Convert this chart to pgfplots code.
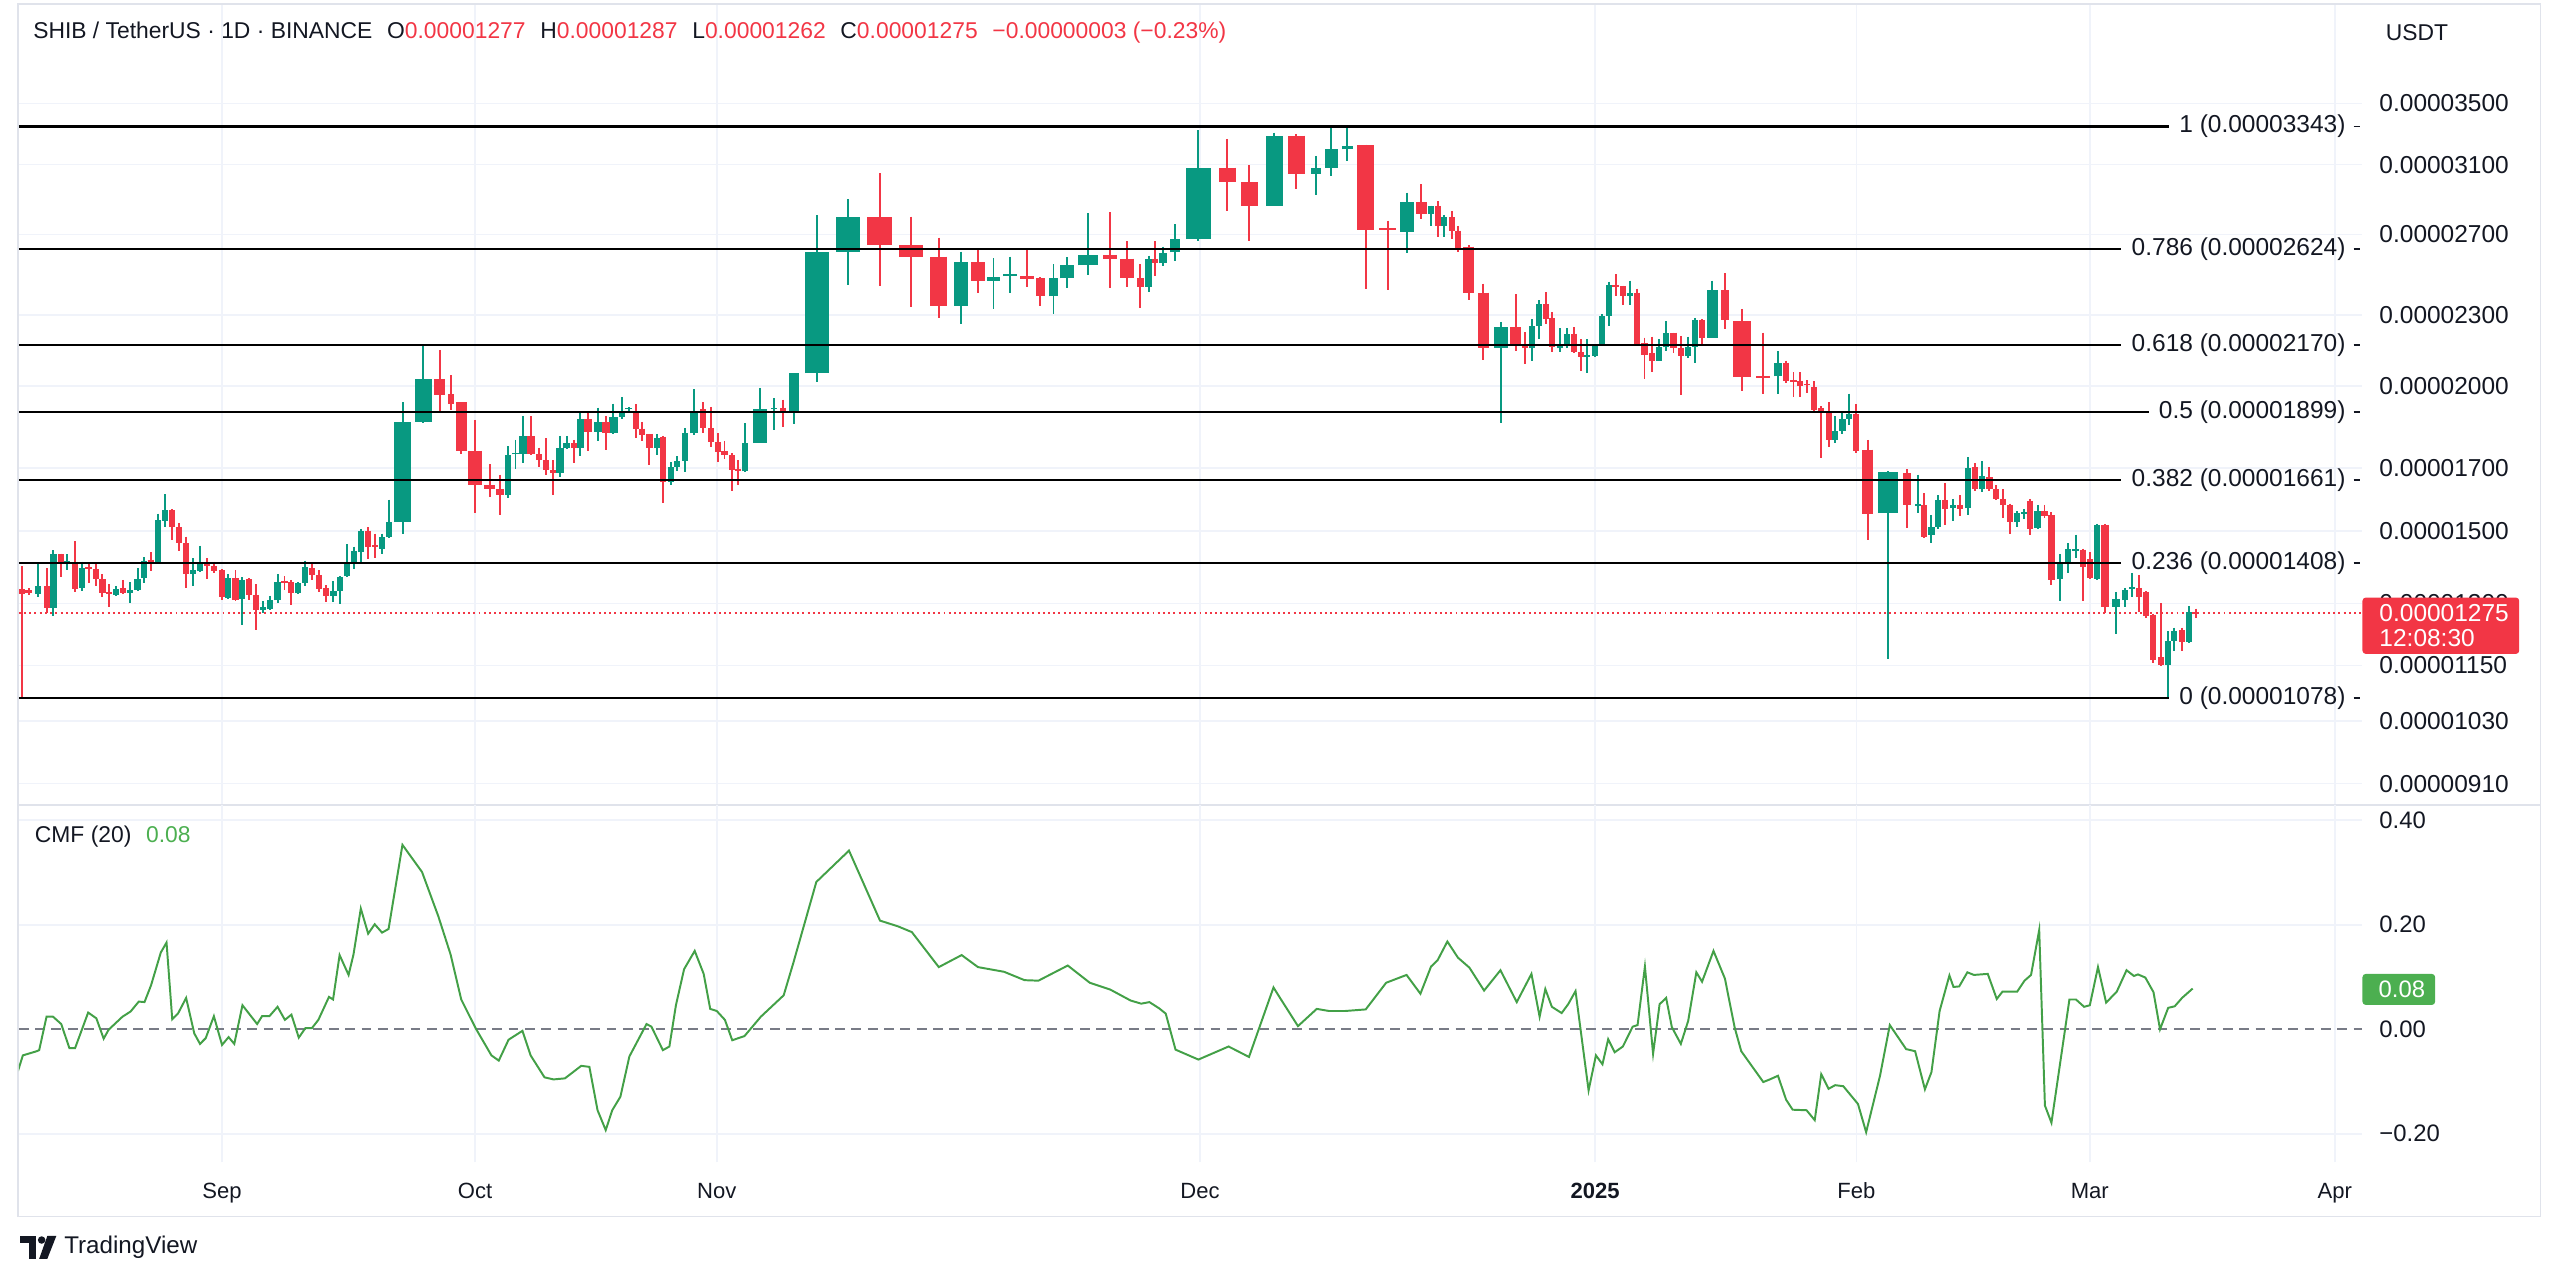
\documentclass[border=0pt]{standalone}
\usepackage{pgfplots}
\pgfplotsset{compat=1.18}
\usepackage{fontspec}
\setmainfont{Liberation Sans}
\definecolor{tvgreen}{HTML}{089981}
\definecolor{tvred}{HTML}{F23645}
\definecolor{tvgrid}{HTML}{F0F3FA}
\definecolor{tvframe}{HTML}{E0E3EB}
\definecolor{tvtext}{HTML}{131722}
\definecolor{tvcmf}{HTML}{43A047}
\definecolor{tvcmfbox}{HTML}{4CAF50}
\definecolor{tvzero}{HTML}{787B86}
\newcommand{\fs}[1]{\fontsize{#1}{#1}\selectfont}
\pgfplotsset{
  wick/.style={line width=0.6pt, mark=none},
  body/.style={line width=#1, mark=none, line cap=butt},
}
\begin{document}
\begin{tikzpicture}[x=0.5pt,y=-0.5pt]
\path (0,0) rectangle (1568,784);
% frame
\draw[tvframe, line width=0.5pt] (11,2.5) rectangle (1556,745);
\begin{axis}[
  at={(5.75pt,-246.5pt)}, anchor=south west,
  scale only axis, width=717.75pt, height=245pt,
  xmin=11.5, xmax=1447, ymode=log, ymin=872.4, ymax=4253,
  axis line style={draw=none}, major tick length=0pt,
  xtick={136,291,439,735,977,1137,1280,1430}, xticklabels={},
  ytick={910,1030,1150,1300,1500,1700,2000,2300,2700,3100,3500},
  yticklabels={0.00000910,0.00001030,0.00001150,0.00001300,0.00001500,0.00001700,0.00002000,0.00002300,0.00002700,0.00003100,0.00003500},
  yticklabel pos=right,
  yticklabel style={anchor=west, inner sep=0pt, xshift=5pt, font=\fs{7.5}, text=tvtext},
  grid=major, major grid style={draw=tvgrid, line width=0.5pt},
  unbounded coords=jump,
]
\addplot[tvred, line width=0.55pt, dash pattern=on 0.6pt off 1pt] coordinates {(11.5,1275)(1447,1275)};
% green wicks
\addplot[wick, tvgreen] coordinates {
(23.25,1408)(23.25,1316)(0,nan)(32.75,1444)(32.75,1269)(0,nan)(41.25,1433)(41.25,1389)(0,nan)(50,1412)(50,1333)(0,nan)
(71.25,1346)(71.25,1320)(0,nan)(79.5,1356)(79.5,1301)(0,nan)(84.25,1394)(84.25,1333)(0,nan)(88,1424)(88,1354)(0,nan)
(97,1553)(97,1408)(0,nan)(101.25,1614)(101.25,1513)(0,nan)(118,1421)(118,1346)(0,nan)(122.5,1458)(122.5,1383)(0,nan)
(139.5,1378)(139.5,1311)(0,nan)(148.25,1369)(148.25,1246)(0,nan)(161.25,1305)(161.25,1276)(0,nan)(165.5,1320)(165.5,1283)(0,nan)
(170,1378)(170,1301)(0,nan)(182.5,1356)(182.5,1325)(0,nan)(186.75,1415)(186.75,1346)(0,nan)(204.25,1359)(204.25,1303)(0,nan)
(208.25,1372)(208.25,1298)(0,nan)(212.75,1461)(212.75,1370)(0,nan)(216.75,1455)(216.75,1392)(0,nan)(221.25,1507)(221.25,1412)(0,nan)
(234,1493)(234,1433)(0,nan)(238.25,1597)(238.25,1479)(0,nan)(246.75,1936)(246.75,1493)(0,nan)(259.25,2171)(259.25,1858)(0,nan)
(311.25,1774)(311.25,1601)(0,nan)(315.75,1797)(315.75,1696)(0,nan)(320.5,1884)(320.5,1716)(0,nan)(343,1812)(343,1670)(0,nan)
(347,1812)(347,1766)(0,nan)(355.5,1899)(355.5,1740)(0,nan)(366.25,1916)(366.25,1794)(0,nan)(375.75,1931)(375.75,1819)(0,nan)
(380.75,1957)(380.75,1873)(0,nan)(385,1919)(385,1899)(0,nan)(402.25,1819)(402.25,1745)(0,nan)(410.75,1719)(410.75,1642)(0,nan)
(414.75,1740)(414.75,1689)(0,nan)(419.5,1841)(419.5,1686)(0,nan)(425,1987)(425,1815)(0,nan)(456.5,1858)(456.5,1686)(0,nan)
(465.25,1992)(465.25,1786)(0,nan)(474.25,1952)(474.25,1833)(0,nan)(486.25,2051)(486.25,1856)(0,nan)(500.25,2804)(500.25,2015)(0,nan)
(519.5,2893)(519.5,2443)(0,nan)(588.5,2609)(588.5,2261)(0,nan)(608.5,2575)(608.5,2329)(0,nan)(618.5,2583)(618.5,2406)(0,nan)
(645.25,2545)(645.25,2307)(0,nan)(653.75,2579)(653.75,2428)(0,nan)(666.25,2815)(666.25,2493)(0,nan)(703.5,2589)(703.5,2408)(0,nan)
(712.5,2635)(712.5,2535)(0,nan)(719.75,2755)(719.75,2559)(0,nan)(734,3318)(734,2664)(0,nan)(780.5,3303)(780.5,2858)(0,nan)
(806,3154)(806,2916)(0,nan)(815.5,3330)(815.5,3033)(0,nan)(825.25,3343)(825.25,3124)(0,nan)(862,2932)(862,2603)(0,nan)
(876.25,2858)(876.25,2746)(0,nan)(884.5,2806)(884.5,2687)(0,nan)(919.25,2270)(919.25,1858)(0,nan)(938.5,2283)(938.5,2099)(0,nan)
(942.5,2369)(942.5,2193)(0,nan)(955.25,2242)(955.25,2137)(0,nan)(959.75,2242)(959.75,2157)(0,nan)(972.25,2193)(972.25,2051)(0,nan)
(976.75,2174)(976.75,2116)(0,nan)(981,2305)(981,2169)(0,nan)(985.5,2459)(985.5,2252)(0,nan)(998.25,2463)(998.25,2348)(0,nan)
(1016,2193)(1016,2099)(0,nan)(1020.5,2274)(1020.5,2142)(0,nan)(1034,2205)(1034,2115)(0,nan)(1038,2288)(1038,2094)(0,nan)
(1048.75,2463)(1048.75,2199)(0,nan)(1089,2142)(1089,1967)(0,nan)(1124,1884)(1124,1786)(0,nan)(1128.5,1899)(1128.5,1819)(0,nan)
(1132.5,1970)(1132.5,1852)(0,nan)(1156.5,1689)(1156.5,1164)(0,nan)(1174.75,1678)(1174.75,1555)(0,nan)(1183,1549)(1183,1465)(0,nan)
(1187.25,1611)(1187.25,1507)(0,nan)(1196,1599)(1196,1531)(0,nan)(1205.25,1736)(1205.25,1549)(0,nan)(1214,1723)(1214,1621)(0,nan)
(1235.25,1561)(1235.25,1513)(0,nan)(1239.5,1568)(1239.5,1536)(0,nan)(1248,1580)(1248,1507)(0,nan)(1261.5,1433)(1261.5,1305)(0,nan)
(1266.5,1465)(1266.5,1380)(0,nan)(1271.25,1490)(1271.25,1421)(0,nan)(1284.25,1522)(1284.25,1362)(0,nan)(1296.25,1330)(1296.25,1223)(0,nan)
(1301.75,1341)(1301.75,1291)(0,nan)(1305.75,1381)(1305.75,1317)(0,nan)(1327.75,1230)(1327.75,1080)(0,nan)(1331.75,1239)(1331.75,1182)(0,nan)
(1340.75,1293)(1340.75,1201)(0,nan)};
% red wicks
\addplot[wick, tvred] coordinates {
(13.25,1399)(13.25,1078)(0,nan)(17.5,1340)(17.5,1322)(0,nan)(28.75,1394)(28.75,1275)(0,nan)(37.25,1435)(37.25,1369)(0,nan)
(45.75,1470)(45.75,1330)(0,nan)(54.25,1408)(54.25,1354)(0,nan)(58.75,1408)(58.75,1346)(0,nan)(62.75,1378)(62.75,1316)(0,nan)
(67,1351)(67,1291)(0,nan)(75.5,1362)(75.5,1325)(0,nan)(92.5,1438)(92.5,1386)(0,nan)(105.5,1568)(105.5,1475)(0,nan)
(109.5,1525)(109.5,1441)(0,nan)(114,1484)(114,1341)(0,nan)(126.75,1421)(126.75,1365)(0,nan)(131,1412)(131,1380)(0,nan)
(135.75,1391)(135.75,1308)(0,nan)(144.25,1389)(144.25,1305)(0,nan)(152.75,1367)(152.75,1308)(0,nan)(156.75,1351)(156.75,1234)(0,nan)
(174.25,1372)(174.25,1335)(0,nan)(178.25,1362)(178.25,1295)(0,nan)(191.25,1410)(191.25,1362)(0,nan)(195.5,1389)(195.5,1330)(0,nan)
(199.5,1348)(199.5,1303)(0,nan)(225.25,1511)(225.25,1419)(0,nan)(229.5,1493)(229.5,1421)(0,nan)(269.25,2148)(269.25,1899)(0,nan)
(276,2042)(276,1905)(0,nan)(282.5,1936)(282.5,1747)(0,nan)(290.75,1870)(290.75,1555)(0,nan)(300,1713)(300,1605)(0,nan)
(306.25,1678)(306.25,1549)(0,nan)(325,1884)(325,1743)(0,nan)(330,1770)(330,1705)(0,nan)(334.5,1804)(334.5,1676)(0,nan)
(338.75,1727)(338.75,1611)(0,nan)(351.5,1797)(351.5,1716)(0,nan)(360.25,1899)(360.25,1759)(0,nan)(371.25,1884)(371.25,1763)(0,nan)
(389.5,1928)(389.5,1804)(0,nan)(393.25,1863)(393.25,1794)(0,nan)(397.75,1819)(397.75,1709)(0,nan)(406.25,1812)(406.25,1586)(0,nan)
(430.5,1936)(430.5,1821)(0,nan)(435.25,1919)(435.25,1772)(0,nan)(439.75,1821)(439.75,1720)(0,nan)(443.75,1794)(443.75,1730)(0,nan)
(448.25,1750)(448.25,1624)(0,nan)(452,1727)(452,1642)(0,nan)(479.75,1947)(479.75,1844)(0,nan)(538.75,3047)(538.75,2436)(0,nan)
(558,2796)(558,2338)(0,nan)(575,2682)(575,2290)(0,nan)(598.75,2623)(598.75,2403)(0,nan)(629,2615)(629,2434)(0,nan)
(637.25,2479)(637.25,2344)(0,nan)(679.75,2821)(679.75,2426)(0,nan)(690.5,2664)(690.5,2434)(0,nan)(698.5,2545)(698.5,2335)(0,nan)
(707.5,2664)(707.5,2485)(0,nan)(751.75,3262)(751.75,2828)(0,nan)(765.25,3099)(765.25,2664)(0,nan)(794,3295)(794,2953)(0,nan)
(836.5,3225)(836.5,2421)(0,nan)(850,2774)(850,2417)(0,nan)(870.5,2981)(870.5,2785)(0,nan)(880.75,2884)(880.75,2687)(0,nan)
(889.25,2828)(889.25,2675)(0,nan)(893,2746)(893,2609)(0,nan)(899.5,2643)(899.5,2371)(0,nan)(908.5,2449)(908.5,2106)(0,nan)
(928.25,2399)(928.25,2145)(0,nan)(934,2225)(934,2089)(0,nan)(946.75,2408)(946.75,2261)(0,nan)(950.75,2314)(950.75,2137)(0,nan)
(964,2247)(964,2133)(0,nan)(968.5,2193)(968.5,2058)(0,nan)(989.5,2495)(989.5,2390)(0,nan)(994,2439)(994,2348)(0,nan)
(1002.75,2425)(1002.75,2171)(0,nan)(1007.25,2201)(1007.25,2028)(0,nan)(1012,2205)(1012,2055)(0,nan)(1025,2222)(1025,2133)(0,nan)
(1029.5,2208)(1029.5,1965)(0,nan)(1042.5,2283)(1042.5,2174)(0,nan)(1056.75,2499)(1056.75,2239)(0,nan)(1067,2329)(1067,1980)(0,nan)
(1080,2222)(1080,1967)(0,nan)(1094,2103)(1094,2010)(0,nan)(1098.5,2055)(1098.5,1957)(0,nan)(1102.5,2055)(1102.5,1955)(0,nan)
(1107,2023)(1107,1973)(0,nan)(1111,2018)(1111,1903)(0,nan)(1115.5,1921)(1115.5,1733)(0,nan)(1120.25,1936)(1120.25,1772)(0,nan)
(1137,1928)(1137,1752)(0,nan)(1144,1797)(1144,1475)(0,nan)(1168.25,1696)(1168.25,1510)(0,nan)(1178.5,1617)(1178.5,1479)(0,nan)
(1191.5,1651)(1191.5,1519)(0,nan)(1200.25,1611)(1200.25,1546)(0,nan)(1209.75,1716)(1209.75,1624)(0,nan)(1218.5,1702)(1218.5,1624)(0,nan)
(1222.5,1642)(1222.5,1596)(0,nan)(1226.75,1630)(1226.75,1539)(0,nan)(1231,1584)(1231,1493)(0,nan)(1243.5,1599)(1243.5,1490)(0,nan)
(1252.25,1580)(1252.25,1539)(0,nan)(1256.5,1558)(1256.5,1348)(0,nan)(1276,1449)(1276,1305)(0,nan)(1280,1438)(1280,1364)(0,nan)
(1289.25,1521)(1289.25,1275)(0,nan)(1310.25,1376)(1310.25,1278)(0,nan)(1314.25,1332)(1314.25,1262)(0,nan)(1318.75,1274)(1318.75,1155)(0,nan)
(1323.5,1301)(1323.5,1149)(0,nan)(1336.25,1239)(1336.25,1184)(0,nan)(1345,1287)(1345,1262)(0,nan)};
% green bodies, normal width
\addplot[body=1.9pt, tvgreen] coordinates {
(23.25,1325)(23.25,1346)(0,nan)(32.75,1288)(32.75,1433)(0,nan)(41.25,1410)(41.25,1415)(0,nan)(50,1341)(50,1394)(0,nan)
(71.25,1323)(71.25,1337)(0,nan)(79.5,1327)(79.5,1335)(0,nan)(84.25,1335)(84.25,1365)(0,nan)(88,1367)(88,1413)(0,nan)
(97,1412)(97,1533)(0,nan)(101.25,1531)(101.25,1564)(0,nan)(118,1378)(118,1389)(0,nan)(122.5,1386)(122.5,1410)(0,nan)
(139.5,1314)(139.5,1367)(0,nan)(148.25,1311)(148.25,1362)(0,nan)(161.25,1283)(161.25,1290)(0,nan)(165.5,1286)(165.5,1308)(0,nan)
(170,1308)(170,1356)(0,nan)(182.5,1327)(182.5,1354)(0,nan)(186.75,1354)(186.75,1397)(0,nan)(204.25,1320)(204.25,1332)(0,nan)
(208.25,1332)(208.25,1370)(0,nan)(212.75,1372)(212.75,1412)(0,nan)(216.75,1410)(216.75,1441)(0,nan)(221.25,1438)(221.25,1502)(0,nan)
(234,1449)(234,1484)(0,nan)(238.25,1484)(238.25,1527)(0,nan)(311.25,1611)(311.25,1743)(0,nan)(315.75,1746)(315.75,1752)(0,nan)
(347,1767)(347,1786)(0,nan)(355.5,1767)(355.5,1873)(0,nan)(380.75,1882)(380.75,1902)(0,nan)(385,1909)(385,1916)(0,nan)
(402.25,1767)(402.25,1804)(0,nan)(410.75,1655)(410.75,1702)(0,nan)(414.75,1702)(414.75,1725)(0,nan)(419.5,1725)(419.5,1823)(0,nan)
(456.5,1689)(456.5,1786)(0,nan)(474.25,1909)(474.25,1916)(0,nan)(703.5,2434)(703.5,2573)(0,nan)(876.25,2811)(876.25,2854)(0,nan)
(884.5,2746)(884.5,2794)(0,nan)(938.5,2154)(938.5,2251)(0,nan)(942.5,2251)(942.5,2353)(0,nan)(955.25,2154)(955.25,2171)(0,nan)
(959.75,2171)(959.75,2217)(0,nan)(972.25,2118)(972.25,2125)(0,nan)(976.75,2123)(976.75,2171)(0,nan)(981,2171)(981,2296)(0,nan)
(985.5,2296)(985.5,2443)(0,nan)(998.25,2390)(998.25,2406)(0,nan)(1016,2103)(1016,2159)(0,nan)(1020.5,2159)(1020.5,2222)(0,nan)
(1034,2120)(1034,2162)(0,nan)(1038,2162)(1038,2277)(0,nan)(1124,1797)(1124,1829)(0,nan)(1128.5,1829)(1128.5,1873)(0,nan)
(1132.5,1873)(1132.5,1892)(0,nan)(1174.75,1576)(1174.75,1582)(0,nan)(1183,1490)(1183,1513)(0,nan)(1187.25,1513)(1187.25,1596)(0,nan)
(1196,1570)(1196,1580)(0,nan)(1205.25,1570)(1205.25,1700)(0,nan)(1214,1630)(1214,1673)(0,nan)(1235.25,1527)(1235.25,1555)(0,nan)
(1239.5,1552)(1239.5,1558)(0,nan)(1248,1510)(1248,1561)(0,nan)(1261.5,1365)(1261.5,1410)(0,nan)(1266.5,1410)(1266.5,1448)(0,nan)
(1271.25,1443)(1271.25,1449)(0,nan)(1284.25,1365)(1284.25,1519)(0,nan)(1301.75,1308)(1301.75,1335)(0,nan)(1305.75,1338)(1305.75,1344)(0,nan)
(1327.75,1151)(1327.75,1207)(0,nan)(1331.75,1207)(1331.75,1231)(0,nan)(1340.75,1205)(1340.75,1278)(0,nan)};
\addplot[body=2.5pt, tvgreen] coordinates {
(320.5,1747)(320.5,1812)(0,nan)(343,1683)(343,1767)(0,nan)(366.25,1826)(366.25,1863)(0,nan)(375.75,1821)(375.75,1882)(0,nan)
(425,1821)(425,1903)(0,nan)(645.25,2388)(645.25,2475)(0,nan)(712.5,2549)(712.5,2603)(0,nan)(1089,2038)(1089,2091)(0,nan)
(1296.25,1291)(1296.25,1311)(0,nan)};
\addplot[body=3.25pt, tvgreen] coordinates {
(486.25,1902)(486.25,2051)(0,nan)(719.75,2605)(719.75,2675)(0,nan)(806,3044)(806,3082)(0,nan)(825.25,3194)(825.25,3217)(0,nan)
(1048.75,2201)(1048.75,2417)(0,nan)};
\addplot[body=4.25pt, tvgreen] coordinates {
(465.25,1786)(465.25,1909)(0,nan)(588.5,2344)(588.5,2555)(0,nan)(608.5,2463)(608.5,2479)(0,nan)(618.5,2486)(618.5,2496)(0,nan)
(653.75,2475)(653.75,2539)(0,nan)(815.5,3082)(815.5,3194)(0,nan)(862,2714)(862,2877)(0,nan)(919.25,2157)(919.25,2247)(0,nan)};
\addplot[body=5.25pt, tvgreen] coordinates {
(246.75,1527)(246.75,1863)(0,nan)(259.25,1863)(259.25,2028)(0,nan)(780.5,2858)(780.5,3283)(0,nan)};
\addplot[body=6.25pt, tvgreen] coordinates {
(666.25,2539)(666.25,2593)(0,nan)(1156.5,1555)(1156.5,1686)(0,nan)};
\addplot[body=7.5pt, tvgreen] coordinates {
(500.25,2051)(500.25,2609)(0,nan)(519.5,2609)(519.5,2794)(0,nan)(734,2675)(734,3082)(0,nan)};
% red bodies
\addplot[body=1.9pt, tvred] coordinates {
(13.25,1337)(13.25,1325)(0,nan)(17.5,1335)(17.5,1327)(0,nan)(28.75,1346)(28.75,1288)(0,nan)(37.25,1433)(37.25,1408)(0,nan)
(45.75,1412)(45.75,1337)(0,nan)(54.25,1397)(54.25,1392)(0,nan)(58.75,1391)(58.75,1365)(0,nan)(62.75,1364)(62.75,1327)(0,nan)
(67,1330)(67,1325)(0,nan)(75.5,1341)(75.5,1327)(0,nan)(92.5,1418)(92.5,1412)(0,nan)(105.5,1564)(105.5,1513)(0,nan)
(109.5,1513)(109.5,1465)(0,nan)(114,1465)(114,1378)(0,nan)(126.75,1408)(126.75,1399)(0,nan)(131,1399)(131,1385)(0,nan)
(135.75,1389)(135.75,1317)(0,nan)(144.25,1367)(144.25,1308)(0,nan)(152.75,1364)(152.75,1322)(0,nan)(156.75,1322)(156.75,1283)(0,nan)
(174.25,1358)(174.25,1353)(0,nan)(178.25,1356)(178.25,1327)(0,nan)(191.25,1394)(191.25,1375)(0,nan)(195.5,1375)(195.5,1337)(0,nan)
(199.5,1341)(199.5,1320)(0,nan)(225.25,1502)(225.25,1453)(0,nan)(229.5,1459)(229.5,1454)(0,nan)(276,1967)(276,1931)(0,nan)
(330,1747)(330,1727)(0,nan)(334.5,1727)(334.5,1692)(0,nan)(338.75,1692)(338.75,1683)(0,nan)(351.5,1786)(351.5,1767)(0,nan)
(389.5,1902)(389.5,1838)(0,nan)(393.25,1838)(393.25,1815)(0,nan)(397.75,1819)(397.75,1767)(0,nan)(406.25,1809)(406.25,1655)(0,nan)
(430.5,1909)(430.5,1841)(0,nan)(435.25,1841)(435.25,1790)(0,nan)(439.75,1790)(439.75,1756)(0,nan)(443.75,1759)(443.75,1745)(0,nan)
(448.25,1745)(448.25,1692)(0,nan)(452,1697)(452,1691)(0,nan)(479.75,1916)(479.75,1902)(0,nan)(698.5,2475)(698.5,2434)(0,nan)
(707.5,2573)(707.5,2549)(0,nan)(880.75,2854)(880.75,2746)(0,nan)(889.25,2794)(889.25,2720)(0,nan)(893,2720)(893,2623)(0,nan)
(934,2171)(934,2154)(0,nan)(946.75,2353)(946.75,2283)(0,nan)(950.75,2287)(950.75,2159)(0,nan)(964,2218)(964,2137)(0,nan)
(968.5,2137)(968.5,2116)(0,nan)(989.5,2443)(989.5,2435)(0,nan)(994,2436)(994,2390)(0,nan)(1002.75,2406)(1002.75,2171)(0,nan)
(1007.25,2176)(1007.25,2128)(0,nan)(1012,2133)(1012,2103)(0,nan)(1025,2222)(1025,2157)(0,nan)(1029.5,2157)(1029.5,2120)(0,nan)
(1042.5,2277)(1042.5,2201)(0,nan)(1094,2094)(1094,2018)(0,nan)(1098.5,2022)(1098.5,2016)(0,nan)(1102.5,2018)(1102.5,1999)(0,nan)
(1107,2008)(1107,2002)(0,nan)(1111,1995)(1111,1906)(0,nan)(1115.5,1913)(1115.5,1902)(0,nan)(1120.25,1902)(1120.25,1797)(0,nan)
(1137,1892)(1137,1759)(0,nan)(1178.5,1580)(1178.5,1484)(0,nan)(1191.5,1596)(1191.5,1568)(0,nan)(1200.25,1580)(1200.25,1568)(0,nan)
(1209.75,1702)(1209.75,1630)(0,nan)(1218.5,1669)(1218.5,1630)(0,nan)(1222.5,1630)(1222.5,1599)(0,nan)(1226.75,1599)(1226.75,1580)(0,nan)
(1231,1580)(1231,1527)(0,nan)(1243.5,1592)(1243.5,1507)(0,nan)(1252.25,1561)(1252.25,1545)(0,nan)(1256.5,1549)(1256.5,1362)(0,nan)
(1276,1446)(1276,1396)(0,nan)(1280,1419)(1280,1367)(0,nan)(1310.25,1341)(1310.25,1316)(0,nan)(1314.25,1330)(1314.25,1269)(0,nan)
(1318.75,1271)(1318.75,1162)(0,nan)(1323.5,1169)(1323.5,1151)(0,nan)(1336.25,1233)(1336.25,1205)(0,nan)(1345,1278)(1345,1274)(0,nan)};
\addplot[body=2.5pt, tvred] coordinates {
(306.25,1630)(306.25,1611)(0,nan)(325,1812)(325,1747)(0,nan)(360.25,1873)(360.25,1826)(0,nan)(371.25,1863)(371.25,1823)(0,nan)
(637.25,2475)(637.25,2388)(0,nan)(1056.75,2417)(1056.75,2277)(0,nan)(1168.25,1683)(1168.25,1580)(0,nan)(1289.25,1519)(1289.25,1291)(0,nan)};
\addplot[body=3.25pt, tvred] coordinates {
(269.25,2028)(269.25,1963)(0,nan)(282.5,1936)(282.5,1759)(0,nan)(300,1642)(300,1630)(0,nan)(870.5,2877)(870.5,2811)(0,nan)
(899.5,2635)(899.5,2403)(0,nan)(908.5,2406)(908.5,2157)(0,nan)(928.25,2247)(928.25,2171)(0,nan)(1144,1763)(1144,1553)(0,nan)};
\addplot[body=4.25pt, tvred] coordinates {
(290.75,1759)(290.75,1642)(0,nan)(598.75,2555)(598.75,2463)(0,nan)(629,2486)(629,2472)(0,nan)(679.75,2593)(679.75,2573)(0,nan)
(690.5,2573)(690.5,2475)(0,nan)(1080,2040)(1080,2033)(0,nan)};
\addplot[body=5.25pt, tvred] coordinates {
(575,2583)(575,2344)(0,nan)(751.75,3082)(751.75,2993)(0,nan)(765.25,2993)(765.25,2858)(0,nan)(794,3283)(794,3044)(0,nan)
(836.5,3220)(836.5,2725)(0,nan)(850,2733)(850,2722)(0,nan)(1067,2274)(1067,2035)(0,nan)};
\addplot[body=7.5pt, tvred] coordinates {
(538.75,2794)(538.75,2643)(0,nan)(558,2643)(558,2583)(0,nan)};
% fib anchor points
\coordinate (fA) at (axis cs:11.5,3343); \coordinate (frA) at (axis cs:1437,3343);
\coordinate (fB) at (axis cs:11.5,2624); \coordinate (frB) at (axis cs:1437,2624);
\coordinate (fC) at (axis cs:11.5,2170); \coordinate (frC) at (axis cs:1437,2170);
\coordinate (fD) at (axis cs:11.5,1899); \coordinate (frD) at (axis cs:1437,1899);
\coordinate (fE) at (axis cs:11.5,1661); \coordinate (frE) at (axis cs:1437,1661);
\coordinate (fF) at (axis cs:11.5,1408); \coordinate (frF) at (axis cs:1437,1408);
\coordinate (fG) at (axis cs:11.5,1078); \coordinate (frG) at (axis cs:1437,1078);
\end{axis}
% fib levels
\foreach \n/\t in {A/{1 (0.00003343)},B/{0.786 (0.00002624)},C/{0.618 (0.00002170)},D/{0.5 (0.00001899)},E/{0.382 (0.00001661)},F/{0.236 (0.00001408)},G/{0 (0.00001078)}}{
  \node[anchor=east, inner sep=0pt, font=\fs{7.5}, text=tvtext] (L\n) at (fr\n) {\t};
  \draw[black, line width=0.75pt] (f\n) -- ([xshift=-3pt]L\n.west);
  \draw[tvtext, line width=0.5pt] ([xshift=2.25pt]fr\n) -- ([xshift=4.25pt]fr\n);
}
% pane separator
\draw[tvframe, line width=0.7pt] (11,493) -- (1556,493);
\begin{axis}[
  at={(5.75pt,-356pt)}, anchor=south west,
  scale only axis, width=717.75pt, height=109.5pt,
  xmin=11.5, xmax=1447, ymin=-0.255, ymax=0.4294,
  axis line style={draw=none}, major tick length=0pt,
  xtick={136,291,439,735,977,1137,1280,1430},
  xticklabels={Sep,Oct,Nov,Dec,{\textbf{2025}},Feb,Mar,Apr},
  xticklabel style={anchor=base, inner sep=0pt, yshift=-11pt, font=\fs{6.75}, text=tvtext},
  ytick={-0.2,0.2,0.4}, yticklabels={−0.20,0.20,0.40},
  extra y ticks={0}, extra y tick labels={0.00}, extra y tick style={grid=none},
  yticklabel pos=right,
  yticklabel style={anchor=west, inner sep=0pt, xshift=5pt, font=\fs{7.3}, text=tvtext},
  grid=major, major grid style={draw=tvgrid, line width=0.5pt},
]
\addplot[tvzero, line width=0.55pt, dash pattern=on 3pt off 2pt] coordinates {(11.5,0)(1447,0)};
\addplot[tvcmf, line width=0.6pt, mark=none] coordinates {
(11,-0.080)(14,-0.050)(22.5,-0.042)(24,-0.040)(28.5,0.024)(32.5,0.024)(37.5,0.010)(42.5,-0.036)(46,-0.036)(54,0.032)(59,0.021)(63.5,-0.018)(66.5,-0.001)(75,0.024)(80,0.034)(85,0.053)(88.5,0.052)(92.5,0.084)(98.5,0.147)(102,0.166)(105.5,0.019)(109,0.030)(114,0.060)(119,-0.008)(122.5,-0.028)(126,-0.017)(131,0.025)(136,-0.030)(140,-0.015)(143.5,-0.028)(148.5,0.046)(157.5,0.010)(160.5,0.025)(165,0.025)(170,0.043)(174.5,0.018)(178.5,0.028)(183,-0.016)(187,0.002)(191,0.002)(195,0.018)(201.5,0.062)(204,0.057)(208,0.142)(213.5,0.104)(216.5,0.143)(221,0.231)(225.5,0.183)(229.5,0.201)(234,0.185)(238,0.192)(246.5,0.353)(258.5,0.301)(268.5,0.216)(276,0.143)(282.5,0.057)(291.5,0.001)(301,-0.050)(305.5,-0.060)(311.5,-0.020)(320,-0.003)(325,-0.050)(333.5,-0.092)(339,-0.096)(346,-0.094)(356,-0.070)(361,-0.072)(366,-0.155)(371,-0.193)(375,-0.155)(380,-0.129)(385.5,-0.052)(396,0.010)(399,0.005)(406,-0.040)(410,-0.033)(414,0.046)(419,0.115)(425.5,0.150)(431,0.106)(435,0.039)(439,0.035)(444,0.018)(448.5,-0.021)(456,-0.013)(466,0.024)(480,0.065)(486,0.128)(500,0.282)(520,0.342)(539,0.208)(550,0.197)(558.5,0.186)(575,0.119)(589,0.142)(599,0.119)(615,0.110)(627.5,0.094)(636,0.093)(654,0.122)(667.5,0.089)(680,0.076)(692.5,0.055)(699,0.049)(704,0.052)(710,0.040)(714,0.030)(720,-0.039)(734,-0.058)(752.5,-0.033)(765,-0.053)(780,0.080)(784,0.060)(795,0.006)(806.5,0.039)(814,0.035)(824,0.035)(836.5,0.038)(849,0.089)(861.5,0.104)(870,0.068)(876.5,0.120)(880.5,0.132)(886.5,0.168)(893,0.137)(900,0.118)(909,0.074)(919,0.113)(929,0.052)(938,0.106)(943,0.024)(946.5,0.077)(950.5,0.043)(956.5,0.031)(960.5,0.048)(965,0.073)(973,-0.117)(977.5,-0.050)(981.5,-0.067)(985,-0.019)(989,-0.044)(994,-0.033)(1000,0.005)(1003,0.008)(1007.5,0.120)(1012.5,-0.047)(1016.5,0.048)(1020.5,0.060)(1024,0.004)(1029.5,-0.028)(1034,0.016)(1039,0.109)(1042.5,0.091)(1049.5,0.150)(1056.5,0.097)(1062.5,0.003)(1066.5,-0.042)(1080,-0.101)(1084,-0.096)(1089,-0.089)(1094,-0.135)(1098,-0.154)(1106.5,-0.155)(1111.5,-0.174)(1115.5,-0.086)(1120,-0.114)(1124,-0.107)(1129,-0.109)(1138,-0.143)(1143,-0.197)(1151.5,-0.089)(1157.5,0.008)(1167.5,-0.038)(1173,-0.042)(1179,-0.115)(1183,-0.082)(1188,0.035)(1194,0.103)(1196.5,0.081)(1200,0.082)(1205,0.109)(1209,0.104)(1217.5,0.106)(1223,0.058)(1226.5,0.072)(1235.5,0.072)(1240,0.093)(1244,0.104)(1249,0.190)(1252.5,-0.146)(1256.5,-0.179)(1267.5,0.057)(1271.5,0.057)(1276.5,0.043)(1280,0.046)(1285,0.119)(1290,0.051)(1296.5,0.072)(1302.5,0.113)(1307,0.102)(1309.5,0.105)(1314,0.099)(1319,0.071)(1323,0.000)(1328,0.041)(1332,0.044)(1336.5,0.060)(1343,0.078)};
\end{axis}
% header and labels
\node[anchor=west, inner sep=0pt, font=\fs{7}, text=tvtext] at (20,20) {SHIB / TetherUS · 1D · BINANCE\hspace{4.5pt}O\textcolor{tvred}{0.00001277}\hspace{4.5pt}H\textcolor{tvred}{0.00001287}\hspace{4.5pt}L\textcolor{tvred}{0.00001262}\hspace{4.5pt}C\textcolor{tvred}{0.00001275}\hspace{4.5pt}\textcolor{tvred}{−0.00000003 (−0.23\%)}};
\node[anchor=west, inner sep=0pt, font=\fs{7}, text=tvtext] at (1461,20) {USDT};
\node[anchor=west, inner sep=0pt, font=\fs{7}, text=tvtext] at (21,512.5) {CMF (20)\hspace{4.5pt}\textcolor{tvcmfbox}{0.08}};
% current price label
\fill[tvred, rounded corners=1pt] (1447,366) rectangle (1543,400.5);
\node[anchor=west, inner sep=0pt, font=\fs{7.5}, text=white] at (1457,375.5) {0.00001275};
\node[anchor=west, inner sep=0pt, font=\fs{7.5}, text=white] at (1457,391) {12:08:30};
% cmf value label
\fill[tvcmfbox, rounded corners=1pt] (1447,596.5) rectangle (1491.5,615.5);
\node[anchor=west, inner sep=0pt, font=\fs{7.3}, text=white] at (1456.5,606) {0.08};
% TradingView logo
\fill[tvtext] (12,757) rectangle (22,761.5);
\fill[tvtext] (17.5,757) rectangle (22,771);
\fill[tvtext] (25.5,759.5) circle (2.3);
\fill[tvtext] (29,757) -- (34.5,757) -- (29,771) -- (24,771) -- cycle;
\node[anchor=west, inner sep=0pt, font=\fs{7.4}, text=tvtext] at (39,764) {TradingView};
\end{tikzpicture}
\end{document}
